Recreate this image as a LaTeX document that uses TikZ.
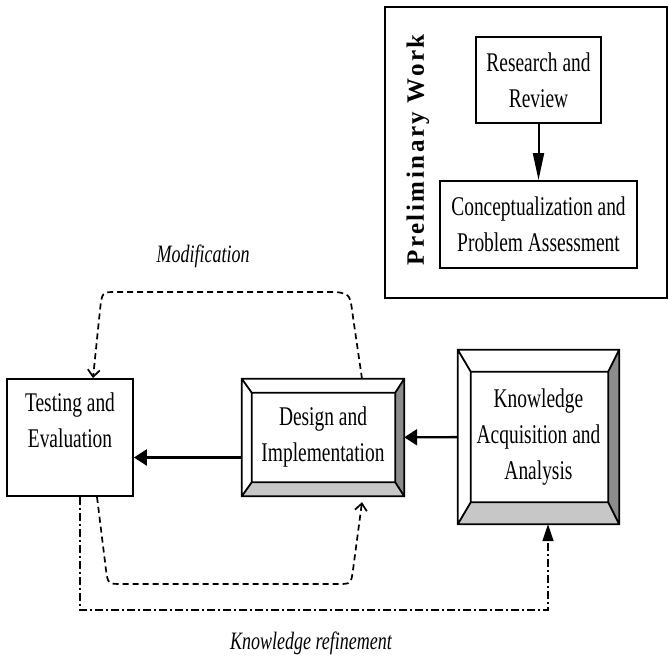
\documentclass[tikz,border=0pt]{standalone}
\usepackage{fontspec}
\setmainfont{Liberation Serif}[FakeStretch=0.72]
\newfontfamily\prelimfont{Liberation Serif Bold}[LetterSpace=10]
\usetikzlibrary{arrows.meta,calc}

% bevelled box: name, left, right, top, bottom widths of the frame
\newcommand{\bevel}[5]{%
  \coordinate (#1-sw) at ($(#1.south west)+(#2,#5)$);
  \coordinate (#1-ne) at ($(#1.north east)+(-#3,-#4)$);
  \fill[bevelside] (#1.north east) -- (#1.south east) -- (#1-ne |- #1-sw) -- (#1-ne) -- cycle;
  \fill[bevelbottom] (#1.south west) -- (#1.south east) -- (#1-ne |- #1-sw) -- (#1-sw) -- cycle;
  \draw[boxline] (#1.south west) rectangle (#1.north east) (#1-sw) rectangle (#1-ne)
    (#1.south west) -- (#1-sw) (#1.north west) -- (#1-sw |- #1-ne)
    (#1.north east) -- (#1-ne) (#1.south east) -- (#1-ne |- #1-sw);
}

\begin{document}
\begin{tikzpicture}[x=1pt, y=1pt,
    boxline/.style={line width=1.8pt},
    box/.style={draw, boxline, inner sep=2pt, align=center,
      font=\fontsize{27}{36}\selectfont},
    txt/.style={inner sep=2pt, align=center, font=\fontsize{27}{36}\selectfont},
    bevelside/.style={fill=black!45},
    bevelbottom/.style={fill=black!22},
    flow/.style={line width=2.4pt, -{Triangle[length=13pt,width=16pt]}},
    modline/.style={line width=1.7pt, dash pattern=on 6pt off 4pt,
      -{Straight Barb[length=7pt,width=12pt]}},
    refline/.style={line width=1.7pt, dash pattern=on 8pt off 3pt on 2pt off 3pt,
      -{Triangle[length=17pt,width=11pt]}},
    note/.style={font=\fontsize{25}{28}\selectfont\itshape}]
  \useasboundingbox (0,0) rectangle (669,658);

  % preliminary work
  \node[box, minimum width=282pt, minimum height=291pt] (prework) at (526,505.5) {};
  \node[rotate=90, font=\fontsize{25}{28}\selectfont\prelimfont]
    (prelim) at (418,508) {Preliminary Work};
  \node[box, minimum width=125pt, minimum height=86pt] (research) at (538.5,578)
    {Research and\\Review};
  \node[box, minimum width=197pt, minimum height=87pt] (concept) at (538.5,433.5)
    {Conceptualization and\\Problem Assessment};
  \draw[line width=2pt, -{Triangle[length=27pt,width=11pt]}] (research) -- (concept);

  % main cycle
  \node[box, minimum width=126pt, minimum height=117pt] (test) at (70,220.5) {};
  \node[txt, anchor=north] (testlbl) at ([yshift=-12pt]test.north) {Testing and\\Evaluation};
  \node[txt, minimum width=162pt, minimum height=117pt] (design) at (323,220.5)
    {Design and\\Implementation};
  \bevel{design}{10}{9}{14}{14}
  \node[txt, minimum width=161pt, minimum height=174pt] (knowledge) at (538.5,221)
    {Knowledge\\Acquisition and\\Analysis};
  \bevel{knowledge}{13}{11}{22}{22}

  \draw[flow] (knowledge) -- (design);
  \draw[flow] ([yshift=-20pt]design.west) -- ([yshift=-20pt]design.west -| test.east);

  % loops
  \draw[modline] ([xshift=39pt]design.north) -- (353,341) .. controls (350,364) .. (336,366)
    -- (116,366) .. controls (102,366) .. (100,348) -- ([xshift=23pt]test.north);
  \draw[modline] ([xshift=27pt]test.south) -- (106,88) .. controls (108,74) .. (122,74)
    -- (338,74) .. controls (351,74) .. (353,88) -- ([xshift=39pt,yshift=-6pt]design.south);
  \coordinate (refcorner) at (548,48);
  \draw[refline] ([xshift=10pt]test.south) |- (refcorner) -- (refcorner |- knowledge.south);

  \node[note] (modlbl) at (203,402) {Modification};
  \node[note] (reflbl) at (311,15) {Knowledge refinement};
\end{tikzpicture}
\end{document}
